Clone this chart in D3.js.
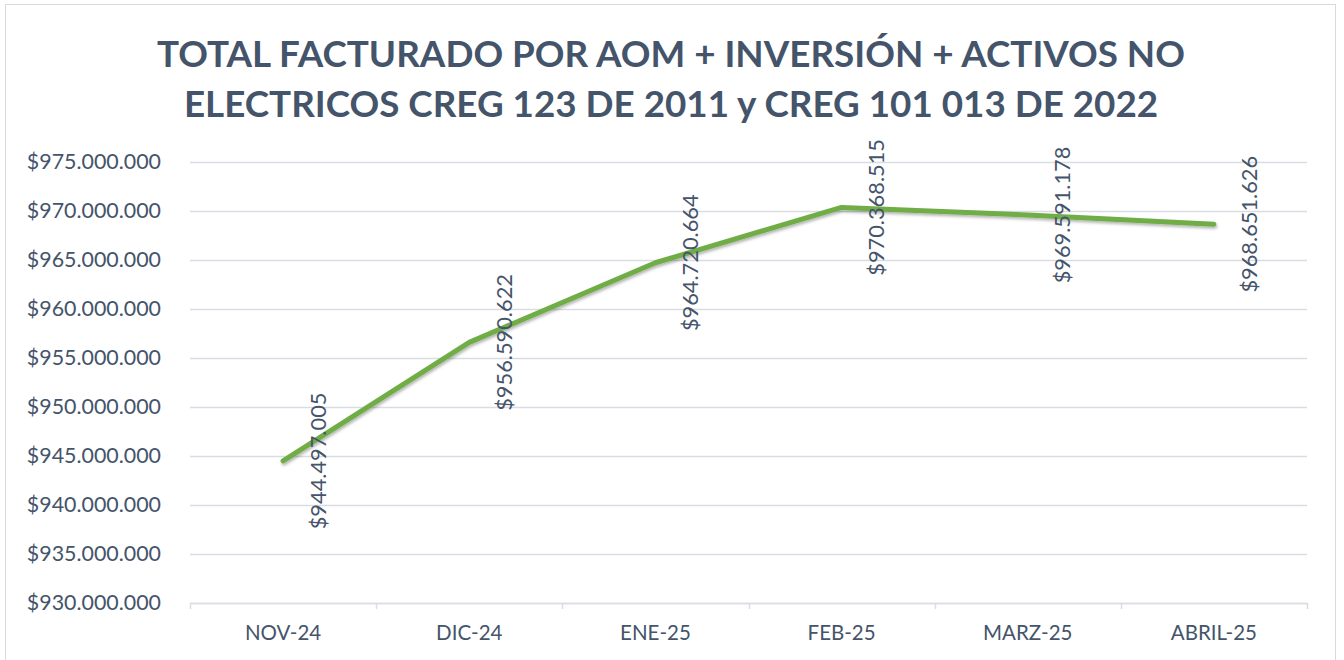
<!DOCTYPE html>
<html>
<head>
<meta charset="utf-8">
<script src="https://cdn.jsdelivr.net/npm/d3@7"></script>
<style>
  html, body { margin: 0; padding: 0; background: #fff; }
  svg { display: block; font-family: Lato, "Open Sans", sans-serif; }
</style>
</head>
<body>
<svg id="chart" width="1344" height="660"></svg>
<script>
const months = ["NOV-24", "DIC-24", "ENE-25", "FEB-25", "MARZ-25", "ABRIL-25"];
const totals = [944497005, 956590622, 964720664, 970368515, 969591178, 968651626];
const yTicks = [930000000, 935000000, 940000000, 945000000, 950000000, 955000000, 960000000, 965000000, 970000000, 975000000];
const titleLines = [
  "TOTAL FACTURADO POR AOM + INVERSIÓN + ACTIVOS NO",
  "ELECTRICOS CREG 123 DE 2011 y CREG 101 013 DE 2022"
];

const data = months.map((m, i) => ({ month: m, val: totals[i] }));

const textColor = "#44546a",
  gridColor = "#d9dde3",
  lineColor = "#70ad47";

const locale = d3.formatLocale({ decimal: ",", thousands: ".", grouping: [3], currency: ["$", ""] });
const money = locale.format("$,.0f");

const svg = d3.select("#chart");
const W = +svg.attr("width"), H = +svg.attr("height");

const margin = { top: 162, right: 37, bottom: 57, left: 190 },
  width = W - margin.left - margin.right,
  height = H - margin.top - margin.bottom;

// chart border
svg.append("rect")
  .attr("x", 5.5).attr("y", 4.5)
  .attr("width", 1330).attr("height", 670)
  .attr("fill", "#fff")
  .attr("stroke", "#d9d9d9");

const defs = svg.append("defs");
const shadow = defs.append("filter").attr("id", "shadow")
  .attr("x", "-5%").attr("y", "-5%").attr("width", "110%").attr("height", "120%");
shadow.append("feDropShadow")
  .attr("dx", 1).attr("dy", 2).attr("stdDeviation", 1.5)
  .attr("flood-color", "#000").attr("flood-opacity", 0.3);

// title
svg.append("g")
  .selectAll("text")
  .data(titleLines)
  .enter()
  .append("text")
  .attr("x", 671)
  .attr("y", (d, i) => 67 + i * 50)
  .attr("text-anchor", "middle")
  .attr("fill", textColor)
  .style("font-size", "36.8px")
  .style("font-weight", "bold")
  .text(d => d);

const g = svg.append("g")
  .attr("transform", "translate(" + margin.left + "," + margin.top + ")");

const x = d3.scaleBand().domain(months).range([0, width]);
const y = d3.scaleLinear().domain([930000000, 975000000]).range([height, 0]);

// gridlines
g.append("g")
  .selectAll("line")
  .data(yTicks)
  .enter()
  .append("line")
  .attr("x1", 0).attr("x2", width)
  .attr("y1", d => Math.round(y(d)) + 0.5)
  .attr("y2", d => Math.round(y(d)) + 0.5)
  .attr("stroke", gridColor)
  .attr("stroke-width", 1.5);

// y axis labels
const yAxis = g.append("g")
  .call(d3.axisLeft(y).tickValues(yTicks).tickFormat(money).tickSize(0).tickPadding(29));
yAxis.select(".domain").remove();
yAxis.selectAll("text")
  .attr("fill", textColor)
  .style("font-size", "21.4px")
  .style("font-family", "Lato, 'Open Sans', sans-serif");

// x axis
const xAxis = g.append("g")
  .attr("transform", "translate(0," + height + ")")
  .call(d3.axisBottom(x).tickSize(0).tickPadding(22));
xAxis.select(".domain").attr("stroke", gridColor).attr("stroke-width", 1.5);
xAxis.selectAll("text")
  .attr("fill", textColor)
  .style("font-size", "20.5px")
  .style("font-family", "Lato, 'Open Sans', sans-serif");

// category tick marks at band edges
const edges = months.map(m => x(m)).concat([width]);
xAxis.append("g")
  .selectAll("line")
  .data(edges)
  .enter()
  .append("line")
  .attr("x1", d => Math.round(d) + 0.5).attr("x2", d => Math.round(d) + 0.5)
  .attr("y1", 0).attr("y2", 6)
  .attr("stroke", gridColor)
  .attr("stroke-width", 1.5);

// series line
const line = d3.line()
  .x(d => x(d.month) + x.bandwidth() / 2)
  .y(d => y(d.val));

g.append("path")
  .datum(data)
  .attr("d", line)
  .attr("fill", "none")
  .attr("stroke", lineColor)
  .attr("stroke-width", 5)
  .attr("stroke-linecap", "round")
  .attr("stroke-linejoin", "round")
  .attr("filter", "url(#shadow)");

// data labels, rotated
g.append("g")
  .selectAll("text")
  .data(data)
  .enter()
  .append("text")
  .attr("transform", d => "translate(" + (x(d.month) + x.bandwidth() / 2 + 35) + "," + y(d.val) + ") rotate(-90)")
  .attr("text-anchor", "middle")
  .attr("dy", "0.35em")
  .attr("fill", textColor)
  .style("font-size", "21.8px")
  .text(d => money(d.val));
</script>
</body>
</html>
